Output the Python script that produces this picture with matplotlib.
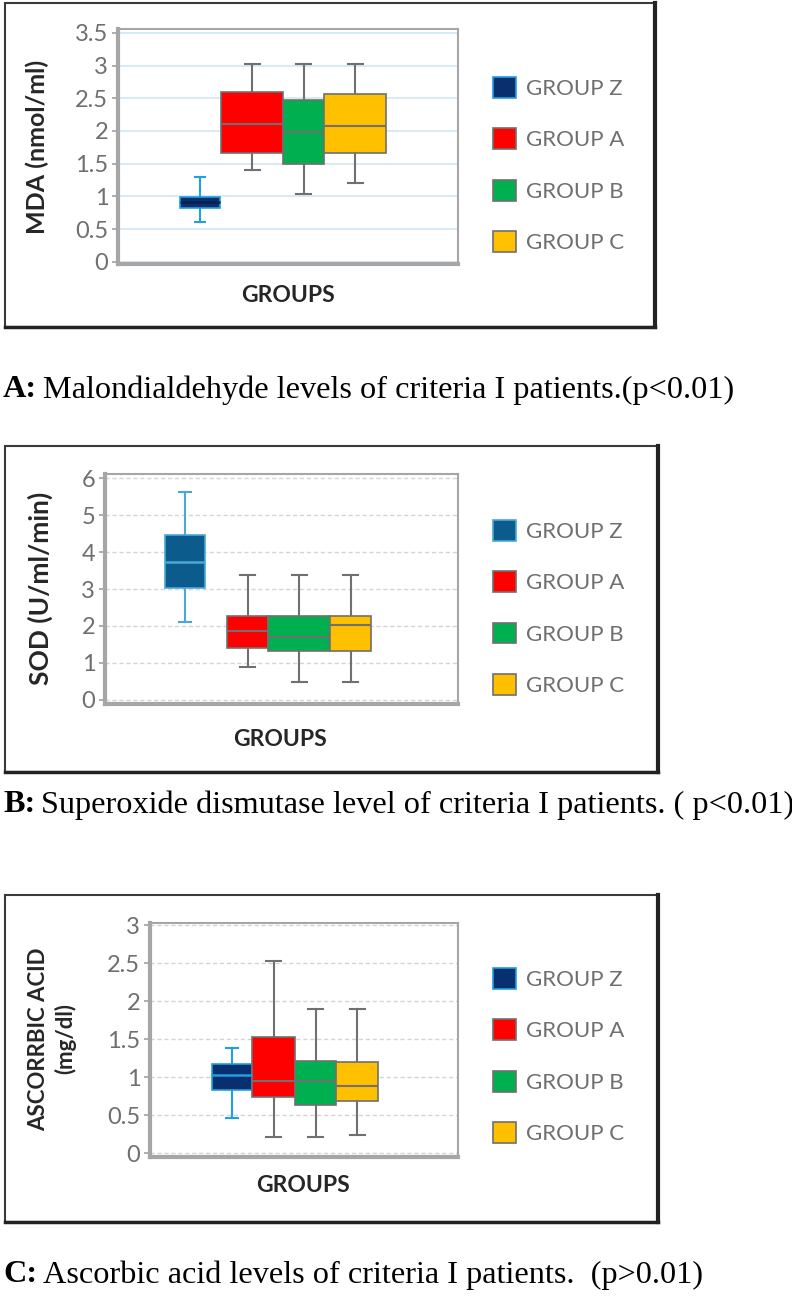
import matplotlib
matplotlib.use("Agg")
import matplotlib.pyplot as plt
from matplotlib.patches import Rectangle, Patch
from matplotlib.lines import Line2D

# group names
groups = ["GROUP Z", "GROUP A", "GROUP B", "GROUP C"]

# A: MDA (nmol/ml)
mda_lo = [0.61, 1.40, 1.04, 1.20]
mda_q1 = [0.82, 1.66, 1.50, 1.66]
mda_med = [0.92, 2.10, 1.98, 2.07]
mda_q3 = [0.99, 2.60, 2.47, 2.57]
mda_hi = [1.29, 3.03, 3.03, 3.03]

# B: SOD (U/ml/min)
sod_lo = [2.10, 0.88, 0.48, 0.48]
sod_q1 = [3.02, 1.40, 1.31, 1.31]
sod_med = [3.74, 1.87, 1.70, 2.02]
sod_q3 = [4.47, 2.27, 2.27, 2.28]
sod_hi = [5.62, 3.38, 3.38, 3.38]

# C: ascorbic acid (mg/dl)
aa_lo = [0.46, 0.21, 0.21, 0.24]
aa_q1 = [0.83, 0.74, 0.63, 0.69]
aa_med = [1.03, 0.95, 0.95, 0.88]
aa_q3 = [1.17, 1.53, 1.22, 1.20]
aa_hi = [1.39, 2.53, 1.90, 1.90]

W, H = 792, 1302
fig = plt.figure(figsize=(W / 100, H / 100), dpi=100)
plt.rcParams['font.family'] = ['Lato', 'DejaVu Sans']

GRAY_TXT = "#6f6f6f"
DARK_TXT = "#262626"
BOX_EDGE = "#707070"
fills = ["#0a2f6e", "#ff0000", "#00b050", "#ffc000"]


def fx(x):
    return x / W


def fy(y):
    return 1 - y / H


def frame(l, t, r, b):
    fig.add_artist(Rectangle((fx(l), fy(b)), fx(r - l), (b - t) / H,
                             transform=fig.transFigure, fill=False,
                             ec="#3a3a3a", lw=1.5))
    # shadow on right and bottom
    fig.add_artist(Line2D([fx(r), fx(r)], [fy(t), fy(b)], transform=fig.transFigure,
                          color="#222222", lw=3))
    fig.add_artist(Line2D([fx(l), fx(r)], [fy(b), fy(b)], transform=fig.transFigure,
                          color="#222222", lw=2.5))


def panel(rect, outer, stats_arrays, pos, wid, caps, ylim, yticks, grid_style,
          z_fill, z_edge, z_med, ylabel, ylab_size, ylab_xy, xlab_xy, legend_xy):
    l, t, r, b = rect
    frame(*outer)
    ax = fig.add_axes([fx(l), fy(b), fx(r - l), (b - t) / H])
    lo, q1, med, q3, hi = stats_arrays
    stats = [dict(med=med[i], q1=q1[i], q3=q3[i], whislo=lo[i], whishi=hi[i], fliers=[])
             for i in range(len(groups))]
    bp = ax.bxp(stats, positions=pos, widths=wid, capwidths=caps, patch_artist=True,
                showfliers=False, manage_ticks=False)
    for i, box in enumerate(bp['boxes']):
        fc = z_fill if i == 0 else fills[i]
        ec = z_edge if i == 0 else BOX_EDGE
        box.set_facecolor(fc)
        box.set_edgecolor(ec)
        box.set_linewidth(1.2)
        box.set_zorder(3)
        bp['medians'][i].set_color(z_med if i == 0 else ec)
        bp['medians'][i].set_linewidth(1.8 if i == 0 else 1.5)
        bp['medians'][i].set_zorder(4)
        for k in (2 * i, 2 * i + 1):
            bp['whiskers'][k].set_color(ec)
            bp['whiskers'][k].set_linewidth(1.5)
            bp['caps'][k].set_color(ec)
            bp['caps'][k].set_linewidth(1.5)

    ax.set_xlim(0, r - l)
    ax.set_ylim(*ylim)
    ax.set_yticks(yticks)
    ax.set_yticklabels([f"{v:g}" for v in yticks])
    ax.set_xticks([])
    ax.tick_params(axis='y', colors="#a0a0a0", labelcolor=GRAY_TXT, labelsize=17,
                   length=4, width=1.2, pad=3)
    ax.set_axisbelow(True)
    ax.yaxis.grid(True, **grid_style)
    for s in ax.spines.values():
        s.set_color("#a6a6a6")
        s.set_linewidth(1.5)
    ax.spines['left'].set_linewidth(3)
    ax.spines['bottom'].set_linewidth(3)

    ax.set_ylabel(ylabel, fontsize=ylab_size, fontweight='bold', color=DARK_TXT,
                  linespacing=1.25)
    ax.yaxis.set_label_coords((ylab_xy[0] - l) / (r - l), (b - ylab_xy[1]) / (b - t))
    ax.yaxis.label.set_va('center')
    ax.set_xlabel("GROUPS", fontsize=16.5, fontweight='bold', color=DARK_TXT)
    ax.xaxis.set_label_coords((xlab_xy[0] - l) / (r - l), (b - xlab_xy[1]) / (b - t))
    ax.xaxis.label.set_va('center')

    handles = [Patch(facecolor=z_fill if i == 0 else fills[i],
                     edgecolor=z_edge if i == 0 else BOX_EDGE, lw=1.2, label=g)
               for i, g in enumerate(groups)]
    leg = fig.legend(handles=handles, loc='upper left',
                     bbox_to_anchor=(fx(legend_xy[0]), fy(legend_xy[1])),
                     frameon=False, fontsize=16, borderpad=0, borderaxespad=0,
                     handlelength=1.05, handleheight=1.05, handletextpad=0.45,
                     labelspacing=1.33)
    for txt in leg.get_texts():
        txt.set_color(GRAY_TXT)
    return ax


blue_grid = dict(color="#cfe6f5", lw=1.2, ls='-')
gray_grid = dict(color="#d4d4d4", lw=1.0, ls=(0, (3, 2)))

panel((118, 29, 458, 264), (5, 3, 655, 327),
      (mda_lo, mda_q1, mda_med, mda_q3, mda_hi),
      [82, 134, 185.5, 237], [40, 62, 41, 62], [10, 15, 15, 15],
      (-0.035, 3.56), [0, 0.5, 1, 1.5, 2, 2.5, 3, 3.5], blue_grid,
      "#0a2f6e", "#1fa0e0", "#061f4f", "MDA (nmol/ml)", 18, (37, 147), (288, 295),
      (493, 77))

panel((105, 474, 458, 704), (5, 446, 658, 772),
      (sod_lo, sod_q1, sod_med, sod_q3, sod_hi),
      [80, 142.5, 194, 245.5], [40, 41, 62, 41], [12, 15, 15, 15],
      (-0.11, 6.11), [0, 1, 2, 3, 4, 5, 6], gray_grid,
      "#0b5c8c", "#4aa8d8", "#4aa8d8", "SOD (U/ml/min)", 19, (40, 588), (280, 740),
      (493, 520))

panel((150, 923, 458, 1157), (5, 895, 658, 1222),
      (aa_lo, aa_q1, aa_med, aa_q3, aa_hi),
      [82, 123.5, 165.5, 207], [40, 43, 41, 42], [12, 15, 15, 15],
      (-0.05, 3.03), [0, 0.5, 1, 1.5, 2, 2.5, 3], gray_grid,
      "#0a2f6e", "#1fa0e0", "#1fa0e0", "ASCORRBIC ACID\n(mg/dl)", 16, (52, 1039),
      (303, 1185), (493, 968))

# captions under each panel
captions = [("A:", "Malondialdehyde levels of criteria I patients.(p<0.01)", 390),
            ("B:", "Superoxide dismutase level of criteria I patients. ( p<0.01)", 805),
            ("C:", "Ascorbic acid levels of criteria I patients.  (p>0.01)", 1275)]
renderer = fig.canvas.get_renderer()
for head, body, yc in captions:
    t1 = fig.text(fx(3), fy(yc), head, fontsize=23.2, fontweight='bold',
                  family='Liberation Serif', va='center', color='black')
    bb = t1.get_window_extent(renderer)
    fig.text(fx(bb.x1 + 6), fy(yc), body, fontsize=23.2, family='Liberation Serif',
             va='center', color='black')

fig.savefig("out.png", dpi=100)
